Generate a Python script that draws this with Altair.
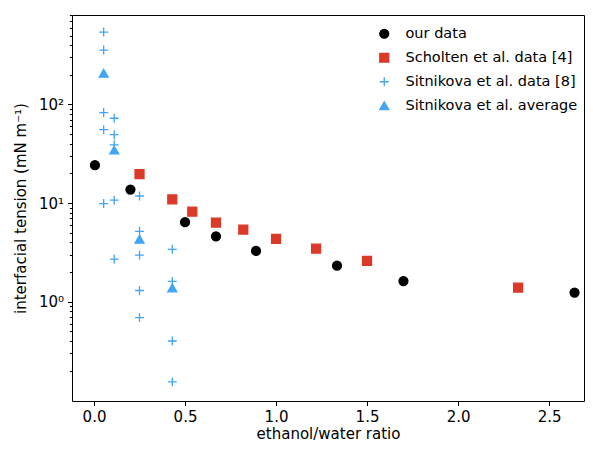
import altair as alt
import pandas as pd

series_names = ["our data", "Scholten et al. data [4]", "Sitnikova et al. data [8]", "Sitnikova et al. average"]

our_x = [0.005, 0.2, 0.5, 0.67, 0.89, 1.335, 1.70, 2.64]
our_y = [24.2, 13.7, 6.4, 4.6, 3.27, 2.32, 1.62, 1.24]

scholten_x = [0.25, 0.43, 0.54, 0.67, 0.82, 1.0, 1.22, 1.5, 2.33]
scholten_y = [19.7, 10.9, 8.2, 6.35, 5.38, 4.34, 3.45, 2.59, 1.39]

sit_x = [0.053, 0.053, 0.053, 0.053, 0.053,
         0.111, 0.111, 0.111, 0.111, 0.111,
         0.25, 0.25, 0.25, 0.25, 0.25,
         0.43, 0.43, 0.43, 0.43]
sit_y = [542, 356, 82.7, 55.5, 9.9,
         72.5, 49.4, 39, 10.7, 2.71,
         11.8, 5.18, 2.97, 1.30, 0.69,
         3.40, 1.61, 0.40, 0.154]

avg_x = [0.053, 0.111, 0.25, 0.43]
avg_y = [207, 34.5, 4.3, 1.38]

x_ticks = [0.0, 0.5, 1.0, 1.5, 2.0, 2.5]
y_ticks = [0.2, 0.3, 0.4, 0.5, 0.6, 0.7, 0.8, 0.9,
           1, 2, 3, 4, 5, 6, 7, 8, 9,
           10, 20, 30, 40, 50, 60, 70, 80, 90,
           100, 200, 300, 400, 500, 600, 700, 800]

rows = []
for xs, ys, name in [(our_x, our_y, series_names[0]),
                     (scholten_x, scholten_y, series_names[1]),
                     (sit_x, sit_y, series_names[2]),
                     (avg_x, avg_y, series_names[3])]:
    for a, b in zip(xs, ys):
        rows.append({"ratio": a, "tension": b, "series": name})
df = pd.DataFrame(rows)

BLACK = "#000000"
RED = "#db3a28"
BLUE = "#42a5f5"
PLUS = "M-1,0H1M0,-1V1"
FS = 15

legend = alt.Legend(
    title=None, orient="none", legendX=305, legendY=12, padding=0,
    labelFontSize=14.5, labelFont="DejaVu Sans", labelColor="black",
    labelOffset=14, labelLimit=0, rowPadding=8, clipHeight=13.5, symbolSize=80,
    symbolStrokeWidth=1.3,
)

chart = alt.Chart(df).mark_point(size=80, strokeWidth=1.3, opacity=1).encode(
    x=alt.X("ratio:Q", title="ethanol/water ratio",
            scale=alt.Scale(domain=[-0.121, 2.692], nice=False, zero=False),
            axis=alt.Axis(values=x_ticks, format=".1f", tickSize=4.5, labelPadding=4,
                          titlePadding=2)),
    y=alt.Y("tension:Q", title="interfacial tension (mN m⁻¹)",
            scale=alt.Scale(type="log", domain=[0.0986, 807], nice=False),
            axis=alt.Axis(values=y_ticks,
                          labelExpr="datum.value == 1 ? '10⁰' : datum.value == 10 ? '10¹' : datum.value == 100 ? '10²' : ''",
                          tickSize={"condition": {"test": "datum.value == 1 || datum.value == 10 || datum.value == 100", "value": 4.5}, "value": 2.6},
                          labelPadding=4, titlePadding=10)),
    shape=alt.Shape("series:N", scale=alt.Scale(domain=series_names,
                    range=["circle", "square", PLUS, "triangle-up"]), legend=legend),
    fill=alt.Fill("series:N", scale=alt.Scale(domain=series_names,
                  range=[BLACK, RED, "transparent", BLUE]), legend=legend),
    stroke=alt.Stroke("series:N", scale=alt.Scale(domain=series_names,
                      range=[BLACK, RED, BLUE, BLUE]), legend=legend),
).properties(
    width=512, height=386,
    autosize=alt.AutoSizeParams(type="none"),
    padding={"left": 64, "top": 7, "right": 1, "bottom": 41},
).configure_view(
    stroke="black", strokeWidth=1
).configure_axis(
    grid=False, domain=False, labelFont="DejaVu Sans", titleFont="DejaVu Sans",
    labelFontSize=FS, titleFontSize=FS, titleFontWeight="normal",
    labelColor="black", titleColor="black", tickColor="black", tickWidth=1,
)

chart.save("out.html", embed_options={"renderer": "svg", "actions": False})
